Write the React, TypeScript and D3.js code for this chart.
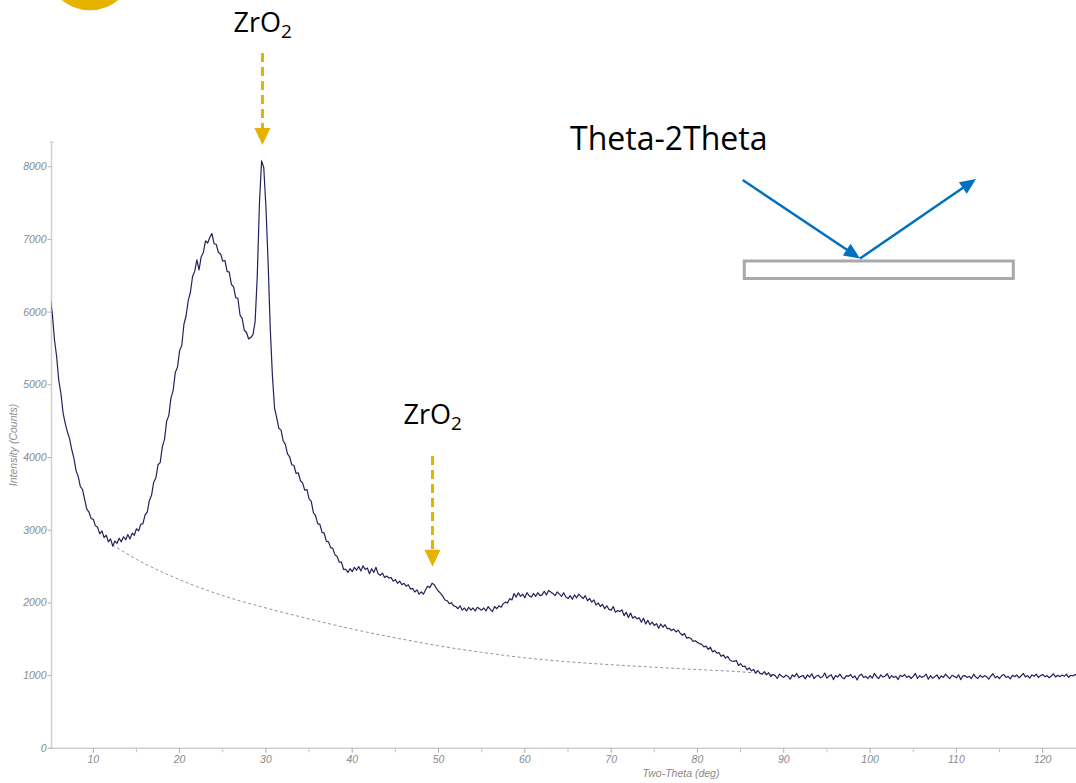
import React from 'react';
import * as d3 from 'd3';

const W = 1076;
const H = 783;

// XRD scan: Two-Theta from 5° in 0.25° steps
const SCAN_START = 5;
const SCAN_STEP = 0.25;
const intensity: number[] = [
  6200, 5980, 5620, 5390,
  5060, 4880, 4610, 4470,
  4350, 4260, 4110, 3990,
  3820, 3740, 3600, 3560,
  3420, 3290, 3250, 3160,
  3150, 3060, 3040, 2950,
  2990, 2900, 2930, 2840,
  2880, 2780, 2850, 2820,
  2890, 2840, 2910, 2870,
  2940, 2880, 2960, 2930,
  3020, 2990, 3080, 3090,
  3210, 3250, 3410, 3480,
  3660, 3720, 3900, 3930,
  4150, 4250, 4500, 4580,
  4820, 4920, 5170, 5240,
  5470, 5540, 5830, 5950,
  6160, 6270, 6490, 6560,
  6720, 6580, 6760, 6820,
  6980, 6950, 7030, 7080,
  6940, 6930, 6820, 6800,
  6700, 6710, 6560, 6550,
  6380, 6350, 6200, 6190,
  5960, 5910, 5750, 5720,
  5630, 5650, 5690, 5870,
  6500, 7500, 8080, 7990,
  7450, 6700, 5780, 5130,
  4680, 4550, 4400, 4380,
  4230, 4180, 4050, 4010,
  3900, 3890, 3780, 3790,
  3680, 3650, 3550, 3560,
  3430, 3400, 3240, 3200,
  3090, 3080, 2970, 2960,
  2850, 2840, 2760, 2750,
  2660, 2640, 2560, 2560,
  2460, 2460, 2420, 2470,
  2430, 2490, 2450, 2500,
  2440, 2510, 2460, 2480,
  2400, 2470, 2420, 2490,
  2400, 2380, 2410, 2350,
  2370, 2340, 2350, 2300,
  2320, 2270, 2300, 2250,
  2270, 2230, 2250, 2190,
  2200, 2150, 2180, 2120,
  2150, 2120, 2180, 2230,
  2210, 2270, 2250, 2200,
  2160, 2130, 2090, 2040,
  2030, 1990, 2000, 1960,
  1950, 1920, 1960, 1900,
  1930, 1890, 1940, 1900,
  1930, 1890, 1940, 1920,
  1900, 1930, 1890, 1950,
  1910, 1880, 1950, 1920,
  1960, 1940, 1990, 2010,
  2000, 2060, 2040, 2130,
  2080, 2140, 2090, 2120,
  2070, 2140, 2100, 2080,
  2130, 2090, 2140, 2100,
  2110, 2160, 2110, 2170,
  2150, 2130, 2100, 2150,
  2120, 2090, 2140, 2080,
  2060, 2100, 2050, 2110,
  2070, 2120, 2090, 2060,
  2100, 2030, 2060, 2010,
  2040, 1970, 2000, 1950,
  1980, 1920, 1960, 1910,
  1900, 1950, 1870, 1895,
  1880, 1905, 1825, 1870,
  1800, 1860, 1790, 1815,
  1780, 1795, 1735, 1790,
  1710, 1760, 1700, 1735,
  1690, 1715, 1650, 1710,
  1665, 1700, 1645, 1650,
  1620, 1640, 1600, 1625,
  1585, 1555, 1580, 1515,
  1525, 1510, 1470, 1480,
  1455, 1440, 1430, 1395,
  1405, 1360, 1390, 1325,
  1345, 1310, 1315, 1265,
  1285, 1240, 1265, 1215,
  1200, 1195, 1210, 1140,
  1165, 1125, 1130, 1080,
  1105, 1065, 1085, 1035,
  1070, 1030, 1020, 1055,
  1010, 1040, 985, 1015,
  1000, 960, 1020, 995,
  975, 1005, 990, 950,
  1010, 985, 1030, 970,
  990, 1000, 955, 1010,
  980, 1025, 960, 990,
  1005, 970, 985, 1035,
  965, 995, 1010, 945,
  1000, 980, 1020, 975,
  955, 1000, 990, 1015,
  970, 995, 940, 1000,
  1020, 975, 990, 960,
  1000, 965, 1030, 985,
  960, 1010, 980, 995,
  1025, 960, 1000, 975,
  990, 945, 1005, 985,
  1015, 975, 995, 960,
  990, 1030, 960, 1000,
  975, 990, 1020, 950,
  1000, 965, 985, 1010,
  955, 995, 975, 1020,
  985, 960, 1005, 990,
  970, 1010, 945, 995,
  1000, 975, 990, 960,
  1020, 980, 960, 1005,
  975, 1000, 985, 950,
  995, 1025, 970, 990,
  960, 1000, 1015, 975,
  990, 955, 1005, 985,
  1010, 970, 995, 1030,
  980, 1000, 965, 1010,
  990, 1020, 975, 1000,
  1015, 985, 1000, 970,
  995, 1025, 980, 1005,
  985, 1010, 990, 1020,
  975, 1005, 995, 1015,
  1000,
];

// Amorphous background (dashed)
const bgTheta = [12.2, 15, 20, 25, 30, 35, 40, 45, 50, 55, 60, 65, 70, 75, 80, 85, 88.7];
const bgCounts = [2800, 2600, 2320, 2100, 1930, 1780, 1640, 1520, 1410, 1320, 1245, 1190, 1150, 1115, 1083, 1052, 1015];

const xMajorTicks = [10, 20, 30, 40, 50, 60, 70, 80, 90, 100, 110, 120];
const xMinorTicks = [15, 25, 35, 45, 55, 65, 75, 85, 95, 105, 115];
const yTicks = [0, 1000, 2000, 3000, 4000, 5000, 6000, 7000, 8000];

const peakLabels = ['ZrO', 'ZrO'];
const peakSubs = ['2', '2'];
const peakTheta = [29.6, 49.3];

const X_TITLE = 'Two-Theta (deg)';
const Y_TITLE = 'Intensity (Counts)';
const INSET_TITLE = 'Theta-2Theta';

const YELLOW = '#E5B200';
const BLUE = '#0070C0';
const AXIS = '#cfcfcf';
const TICKTXT = '#8a8a8a';

export default function App() {
  const x = d3.scaleLinear().domain([5.15, 124]).range([51.44, 1077.2]);
  const y = d3.scaleLinear().domain([0, 8000]).range([748.3, 166.7]);
  const yTop = y(8340);

  const pts: [number, number][] = intensity.map((v, i) => [SCAN_START + i * SCAN_STEP, v]);
  const line = d3
    .line<[number, number]>()
    .x((d) => x(d[0]))
    .y((d) => y(d[1]));
  const bgLine = d3
    .line<number>()
    .x((d, i) => x(bgTheta[i]))
    .y((d) => y(d))
    .curve(d3.curveMonotoneX);

  // annotation geometry
  const arrowTop = [53, 456];
  const arrowTip = [145, 566.7];
  const labelBase = [31.7, 424.3];

  const tri = (tx: number, ty: number, fx: number, fy: number, len: number, hw: number) => {
    const dx = tx - fx;
    const dy = ty - fy;
    const L = Math.hypot(dx, dy);
    const ux = dx / L;
    const uy = dy / L;
    const bx = tx - ux * len;
    const by = ty - uy * len;
    return `M${tx},${ty}L${bx - uy * hw},${by + ux * hw}L${bx + uy * hw},${by - ux * hw}Z`;
  };

  const inc = { x1: 742.7, y1: 180, x2: 860, y2: 258.5 };
  const refl = { x1: 860, y1: 258.5, x2: 976, y2: 179 };

  return (
    <svg
      width={W}
      height={H}
      style={{ position: 'absolute', left: 0, top: 0, display: 'block', background: '#fff' }}
    >
      <defs>
        <clipPath id="plot">
          <rect x={51.5} y={100} width={W - 51.5} height={660} />
        </clipPath>
      </defs>

      {/* yellow circle marker */}
      <circle cx={90} cy={-33.7} r={44} fill={YELLOW} />

      {/* axes */}
      <line x1={51.5} x2={51.5} y1={yTop} y2={y(0)} stroke={AXIS} strokeWidth={1.5} />
      <line x1={49.5} x2={53.5} y1={yTop} y2={yTop} stroke={AXIS} strokeWidth={1.2} />
      <line x1={49} x2={W} y1={y(0)} y2={y(0)} stroke={AXIS} strokeWidth={1.5} />
      {yTicks.map((t) => (
        <g key={'y' + t}>
          <line x1={47.5} x2={51.5} y1={y(t)} y2={y(t)} stroke="#b5b5b5" strokeWidth={1} />
          <text
            x={46.5}
            y={y(t)}
            dy="0.34em"
            textAnchor="end"
            fontFamily="'Liberation Sans', Arial, sans-serif"
            fontStyle="italic"
            fontSize={10.5}
            fill={TICKTXT}
          >
            {t}
          </text>
        </g>
      ))}
      {xMajorTicks.map((t) => (
        <g key={'x' + t}>
          <line x1={x(t)} x2={x(t)} y1={y(0)} y2={y(0) + 4.5} stroke="#a8a8a8" strokeWidth={1} />
          <text
            x={x(t)}
            y={763}
            textAnchor="middle"
            fontFamily="'Liberation Sans', Arial, sans-serif"
            fontStyle="italic"
            fontSize={10.5}
            fill={TICKTXT}
          >
            {t}
          </text>
        </g>
      ))}
      {xMinorTicks.map((t) => (
        <line key={'m' + t} x1={x(t)} x2={x(t)} y1={y(0)} y2={y(0) + 4} stroke="#c4c4c4" strokeWidth={1} />
      ))}
      <text
        x={681}
        y={777}
        textAnchor="middle"
        fontFamily="'Liberation Sans', Arial, sans-serif"
        fontStyle="italic"
        fontSize={10.5}
        fill={TICKTXT}
      >
        {X_TITLE}
      </text>
      <text
        transform={`translate(17,445) rotate(-90)`}
        textAnchor="middle"
        fontFamily="'Liberation Sans', Arial, sans-serif"
        fontStyle="italic"
        fontSize={10.5}
        fill={TICKTXT}
      >
        {Y_TITLE}
      </text>

      {/* data */}
      <g clipPath="url(#plot)">
        <path d={bgLine(bgCounts) || ''} fill="none" stroke="#8e93aa" strokeWidth={1} strokeDasharray="3,2.5" />
        <path d={line(pts) || ''} fill="none" stroke="#22225a" strokeWidth={1.2} strokeLinejoin="round" />
      </g>

      {/* ZrO2 annotations */}
      {peakTheta.map((th, i) => {
        const ax = x(th);
        return (
          <g key={'p' + i}>
            <line
              x1={ax}
              x2={ax}
              y1={arrowTop[i]}
              y2={arrowTip[i] - 15}
              stroke={YELLOW}
              strokeWidth={3}
              strokeDasharray="9,5"
            />
            <path d={tri(ax, arrowTip[i], ax, arrowTop[i], 17, 8)} fill={YELLOW} />
            <text
              x={ax - 29}
              y={labelBase[i]}
              fontFamily="'Open Sans', sans-serif"
              fontSize={27}
              fill="#000"
            >
              {peakLabels[i]}
              <tspan fontSize={19} dy={6}>
                {peakSubs[i]}
              </tspan>
            </text>
          </g>
        );
      })}

      {/* Theta-2Theta inset */}
      <text x={570} y={150} fontFamily="'Open Sans', sans-serif" fontSize={32} fill="#000">
        {INSET_TITLE}
      </text>
      <rect x={744.3} y={261} width={269} height={17.5} fill="none" stroke="#a9a9a9" strokeWidth={3} />
      <line x1={inc.x1} y1={inc.y1} x2={inc.x2 - 9} y2={inc.y2 - 6} stroke={BLUE} strokeWidth={2.5} />
      <path d={tri(inc.x2, inc.y2, inc.x1, inc.y1, 16, 7)} fill={BLUE} />
      <line x1={refl.x1} y1={refl.y1} x2={refl.x2 - 9} y2={refl.y2 + 6} stroke={BLUE} strokeWidth={2.5} />
      <path d={tri(refl.x2, refl.y2, refl.x1, refl.y1, 16, 7)} fill={BLUE} />
    </svg>
  );
}
